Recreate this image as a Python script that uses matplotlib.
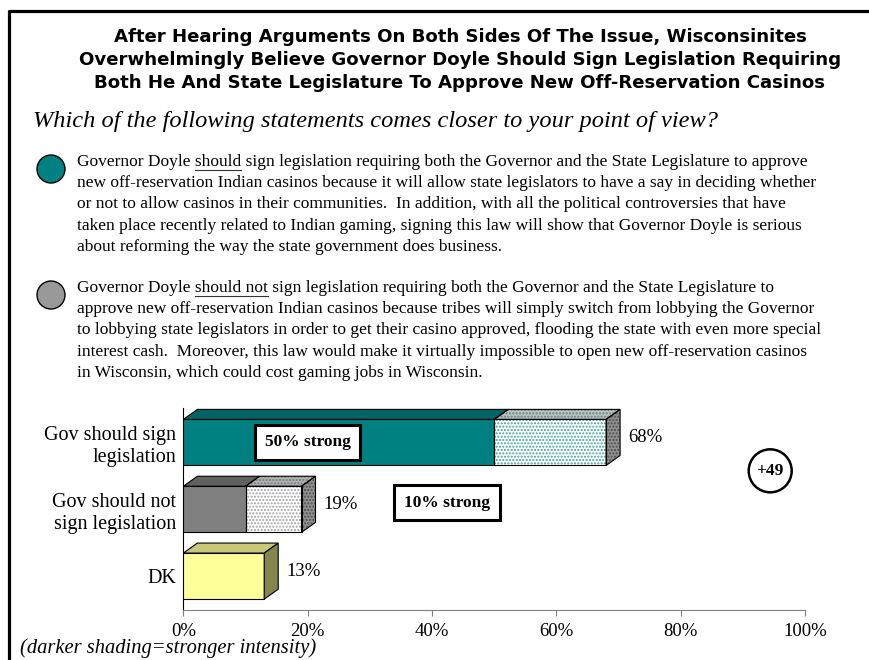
import matplotlib
matplotlib.use("Agg")
import matplotlib.pyplot as plt
from matplotlib.patches import Polygon, Ellipse
from matplotlib.lines import Line2D

# survey results (percent)
categories = ["Gov should sign\nlegislation", "Gov should not\nsign legislation", "DK"]
strong = [50, 10]          # strong intensity share, sign / not sign
total = [68, 19, 13]       # total share per answer
strong_labels = ["50% strong", "10% strong"]
margin_label = "+49"
ticks = [0, 20, 40, 60, 80, 100]

title = ("After Hearing Arguments On Both Sides Of The Issue, Wisconsinites\n"
         "Overwhelmingly Believe Governor Doyle Should Sign Legislation Requiring\n"
         "Both He And State Legislature To Approve New Off-Reservation Casinos")
question = "Which of the following statements comes closer to your point of view?"
para_yes = [
    "Governor Doyle should sign legislation requiring both the Governor and the State Legislature to approve",
    "new off-reservation Indian casinos because it will allow state legislators to have a say in deciding whether",
    "or not to allow casinos in their communities.  In addition, with all the political controversies that have",
    "taken place recently related to Indian gaming, signing this law will show that Governor Doyle is serious",
    "about reforming the way the state government does business.",
]
para_no = [
    "Governor Doyle should not sign legislation requiring both the Governor and the State Legislature to",
    "approve new off-reservation Indian casinos because tribes will simply switch from lobbying the Governor",
    "to lobbying state legislators in order to get their casino approved, flooding the state with even more special",
    "interest cash.  Moreover, this law would make it virtually impossible to open new off-reservation casinos",
    "in Wisconsin, which could cost gaming jobs in Wisconsin.",
]
footnote = "(darker shading=stronger intensity)"

W, H = 870, 660
SERIF = "Liberation Serif"

fig = plt.figure(figsize=(W / 100, H / 100), dpi=100)


def fx(px):
    return px / W


def fy(py):
    return 1 - py / H


# black frame on the left and top
fig.add_artist(Line2D([fx(9), fx(9), 1.0], [0.0, fy(11), fy(11)], color="black", lw=2.3))

fig.text(fx(460), fy(60), title, ha="center", va="center", fontsize=13.1,
         fontweight="bold", family="DejaVu Sans", linespacing=1.37)
fig.text(fx(33), fy(121), question, ha="left", va="center", fontsize=17.6,
         style="italic", family=SERIF)

renderer = fig.canvas.get_renderer()


def text_width(s, **kw):
    t = fig.text(0, 0, s, **kw)
    w = t.get_window_extent(renderer).width
    t.remove()
    return w


body = dict(fontsize=12.5, family=SERIF)


def paragraph(lines, y0, word, bullet_color):
    fig.add_artist(Ellipse((fx(51), fy(y0 + 7)), 28 / W, 28 / H, transform=fig.transFigure,
                           facecolor=bullet_color, edgecolor="black", lw=1))
    for k, line in enumerate(lines):
        fig.text(fx(77), fy(y0 + k * 21.2), line, ha="left", va="center", **body)
    # underline the key word on the first line
    head = "Governor Doyle " + word
    x1 = 77 + text_width(head, **body)
    x0 = x1 - text_width(word, **body)
    fig.add_artist(Line2D([fx(x0), fx(x1)], [fy(y0 + 8), fy(y0 + 8)], color="#333333", lw=0.8))


paragraph(para_yes, 162, "should", "#008080")
paragraph(para_no, 288, "should not", "#999999")

fig.text(fx(20), fy(648), footnote, ha="left", va="center", fontsize=14.8,
         style="italic", family=SERIF)

# chart area
ax = fig.add_axes([183.4 / W, fy(610), 621.6 / W, 202 / H])
ax.set_xlim(0, 100)
ax.set_ylim(-0.507, 2.515)

ypos = [2, 1, 0]
bh = 0.69
dx = 14 / 6.216      # depth in percent units
dy = 10 / 67         # depth in category units

front_solid = ["#008080", "#808080", "#FFFF99"]
top_solid = ["#006464", "#606060", "#C8C878"]
dot_color = ["#40A0A0", "#A0A0A0"]
top_light = ["#B4C4C4", "#B0B0B0"]
side_color = ["#909090", "#909090", "#858550"]


def face(pts, fc, hatch=None, hc=None):
    if hatch:
        ax.add_patch(Polygon(pts, closed=True, facecolor=fc, edgecolor=hc, hatch=hatch,
                             lw=0, clip_on=False, zorder=2))
        ax.add_patch(Polygon(pts, closed=True, facecolor="none", edgecolor="black",
                             lw=0.8, clip_on=False, zorder=3))
    else:
        ax.add_patch(Polygon(pts, closed=True, facecolor=fc, edgecolor="black",
                             lw=0.8, clip_on=False, zorder=3))


for i, y in enumerate(ypos):
    t = total[i]
    s = strong[i] if i < len(strong) else t
    lo, hi = y - bh / 2, y + bh / 2
    ax.barh(y, s, height=bh, left=0, color=front_solid[i], edgecolor="black", lw=0.8, zorder=3)
    face([(0, hi), (s, hi), (s + dx, hi + dy), (dx, hi + dy)], top_solid[i])
    if t > s:
        ax.barh(y, t - s, height=bh, left=s, color="white", edgecolor=dot_color[i],
                hatch=".....", lw=0, zorder=2)
        ax.barh(y, t - s, height=bh, left=s, color="none", edgecolor="black", lw=0.8, zorder=3)
        face([(s, hi), (t, hi), (t + dx, hi + dy), (s + dx, hi + dy)], top_light[i],
             ".....", "#708080")
        face([(t, lo), (t, hi), (t + dx, hi + dy), (t + dx, lo + dy)], side_color[i],
             ".....", "#505050")
    else:
        face([(t, lo), (t, hi), (t + dx, hi + dy), (t + dx, lo + dy)], side_color[i])
    ax.text(t + dx + 1.3, y + dy / 2, f"{t}%", ha="left", va="center",
            fontsize=13.5, family=SERIF)

box = dict(boxstyle="square,pad=0.55", facecolor="white", edgecolor="black", lw=2.2)
ax.text(20, ypos[0], strong_labels[0], ha="center", va="center", fontsize=12.5,
        fontweight="bold", family=SERIF, bbox=box, zorder=5)
ax.text(42.4, ypos[1] + 0.1, strong_labels[1], ha="center", va="center", fontsize=12.5,
        fontweight="bold", family=SERIF, bbox=box, zorder=5)
ax.text(94.4, 1.575, margin_label, ha="center", va="center", fontsize=12.5,
        fontweight="bold", family=SERIF,
        bbox=dict(boxstyle="circle,pad=0.45", facecolor="white", edgecolor="black", lw=1.8))

ax.set_yticks(ypos)
ax.set_yticklabels(categories, fontsize=14.5, family=SERIF, linespacing=1.2)
ax.tick_params(axis="y", length=0, pad=5)
ax.set_xticks(ticks)
ax.set_xticklabels([f"{v}%" for v in ticks], fontsize=13.5, family=SERIF)
ax.tick_params(axis="x", length=4, width=0.8, color="#808080", pad=5)
for side in ("top", "right"):
    ax.spines[side].set_visible(False)
ax.spines["left"].set_color("black")
ax.spines["bottom"].set_color("#808080")
ax.patch.set_visible(False)

fig.savefig("out.png", dpi=100)
